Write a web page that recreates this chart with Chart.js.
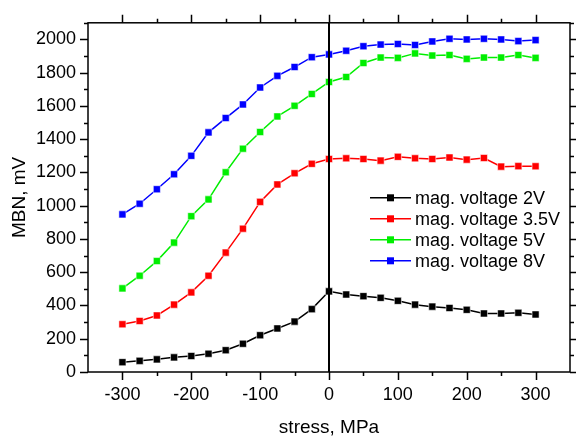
<!DOCTYPE html>
<html>
<head>
<meta charset="utf-8">
<script src="https://cdn.jsdelivr.net/npm/chart.js@4.4.1/dist/chart.umd.min.js"></script>
<style>
  html, body { margin: 0; padding: 0; background: #fff; }
  #wrap { width: 576px; height: 439px; }
</style>
</head>
<body>
<div id="wrap"><canvas id="chart"></canvas></div>
<script>
// stress values, MPa
const stress = [-300, -275, -250, -225, -200, -175, -150, -125, -100, -75, -50, -25, 0,
                25, 50, 75, 100, 125, 150, 175, 200, 225, 250, 275, 300];

// MBN, mV
const mbn2V = [59, 67, 76, 88, 96, 110, 131, 170, 221, 262, 303, 378, 485,
               466, 456, 446, 428, 405, 393, 385, 374, 352, 352, 356, 346];
const mbn35V = [287, 307, 340, 405, 479, 579, 718, 862, 1023, 1128, 1195, 1252, 1281,
                1285, 1281, 1271, 1294, 1285, 1281, 1290, 1277, 1287, 1235, 1238, 1237];
const mbn5V = [503, 579, 667, 778, 937, 1038, 1201, 1343, 1443, 1537, 1601, 1672, 1744,
               1774, 1858, 1891, 1889, 1916, 1903, 1906, 1883, 1891, 1891, 1906, 1889];
const mbn8V = [948, 1012, 1099, 1189, 1300, 1441, 1527, 1609, 1711, 1781, 1834, 1893, 1910,
               1932, 1959, 1969, 1973, 1967, 1988, 2004, 2000, 2004, 2000, 1990, 1996];

const seriesNames = ['mag. voltage 2V', 'mag. voltage 3.5V', 'mag. voltage 5V', 'mag. voltage 8V'];
const seriesColors = ['#000000', '#ff0000', '#00ee00', '#0000ff'];

const xTicks = [-300, -200, -100, 0, 100, 200, 300];
const yTicks = [0, 200, 400, 600, 800, 1000, 1200, 1400, 1600, 1800, 2000];

const FONT = '"Liberation Sans", Arial, sans-serif';

function toPoints(ys) {
    return stress.map((s, i) => ({ x: s, y: ys[i] }));
}

const allSeries = [mbn2V, mbn35V, mbn5V, mbn8V];
const datasets = allSeries.map((ys, i) => ({
    label: seriesNames[i],
    data: toPoints(ys),
    borderColor: seriesColors[i],
    backgroundColor: seriesColors[i],
    borderWidth: 1.5,
    pointStyle: 'rect',
    pointRadius: 5,
    pointBorderWidth: 1,
    pointBorderColor: 'rgba(255,255,255,0.55)',
    pointBackgroundColor: seriesColors[i],
    tension: 0
}));

// frame, tick marks, zero line and legend
const framePlugin = {
    id: 'frame',
    afterDatasetsDraw(chart) {
        const { ctx, chartArea: a, scales: { x, y } } = chart;
        ctx.save();
        ctx.strokeStyle = '#000';

        // zero line
        const x0 = x.getPixelForValue(0);
        ctx.lineWidth = 2;
        ctx.beginPath();
        ctx.moveTo(x0, a.top);
        ctx.lineTo(x0, a.bottom);
        ctx.stroke();

        // ticks
        ctx.lineWidth = 1.5;
        ctx.beginPath();
        for (let v = -300; v <= 300; v += 50) {
            const px = Math.round(x.getPixelForValue(v)) + 0.5;
            const len = v % 100 === 0 ? 8 : 4;
            ctx.moveTo(px, a.bottom); ctx.lineTo(px, a.bottom + len);
            ctx.moveTo(px, a.top); ctx.lineTo(px, a.top - len);
        }
        for (let v = 0; v <= 2100; v += 100) {
            const py = Math.round(y.getPixelForValue(v)) + 0.5;
            const len = v % 200 === 0 ? 8 : 4;
            ctx.moveTo(a.left, py); ctx.lineTo(a.left - len, py);
            ctx.moveTo(a.right, py); ctx.lineTo(a.right + len, py);
        }
        ctx.stroke();

        // frame
        ctx.lineWidth = 1.5;
        ctx.strokeRect(a.left, a.top, a.right - a.left, a.bottom - a.top);

        // legend
        const lx = a.left + 282, ly = a.top + 175, rowH = 21;
        ctx.font = '18px ' + FONT;
        ctx.textBaseline = 'middle';
        ctx.fillStyle = '#000';
        chart.data.datasets.forEach((ds, i) => {
            const yy = ly + i * rowH;
            ctx.strokeStyle = ds.borderColor;
            ctx.lineWidth = 1.5;
            ctx.beginPath();
            ctx.moveTo(lx, yy); ctx.lineTo(lx + 41, yy);
            ctx.stroke();
            ctx.fillStyle = ds.borderColor;
            ctx.fillRect(lx + 20.5 - 3.5, yy - 3.5, 7, 7);
            ctx.fillStyle = '#000';
            ctx.fillText(ds.label, lx + 45, yy + 1);
        });
        ctx.restore();
    }
};

new Chart(document.getElementById('chart'), {
    type: 'line',
    data: { datasets },
    options: {
        responsive: true,
        maintainAspectRatio: false,
        animation: false,
        layout: { padding: { top: 14, right: 4, left: 0, bottom: 0 } },
        plugins: {
            legend: { display: false },
            tooltip: { enabled: false }
        },
        scales: {
            x: {
                type: 'linear',
                min: -350,
                max: 350,
                afterBuildTicks: (s) => { s.ticks = xTicks.map(v => ({ value: v })); },
                afterFit: (s) => { s.height = 67; },
                grid: { display: false, drawTicks: false },
                border: { display: false },
                ticks: {
                    color: '#000',
                    padding: 12,
                    maxRotation: 0,
                    font: { family: FONT, size: 18 },
                    callback: (v) => String(v)
                },
                title: {
                    display: true,
                    text: 'stress, MPa',
                    color: '#000',
                    padding: { top: 2, bottom: 0 },
                    font: { family: FONT, size: 19 }
                }
            },
            y: {
                min: 0,
                max: 2100,
                afterBuildTicks: (s) => { s.ticks = yTicks.map(v => ({ value: v })); },
                afterFit: (s) => { s.width = 88; },
                grid: { display: false, drawTicks: false },
                border: { display: false },
                ticks: {
                    color: '#000',
                    padding: 12,
                    font: { family: FONT, size: 18 },
                    callback: (v) => String(v)
                },
                title: {
                    display: true,
                    text: 'MBN, mV',
                    color: '#000',
                    padding: { top: 8, bottom: 0 },
                    font: { family: FONT, size: 19 }
                }
            }
        }
    },
    plugins: [framePlugin]
});
</script>
</body>
</html>
